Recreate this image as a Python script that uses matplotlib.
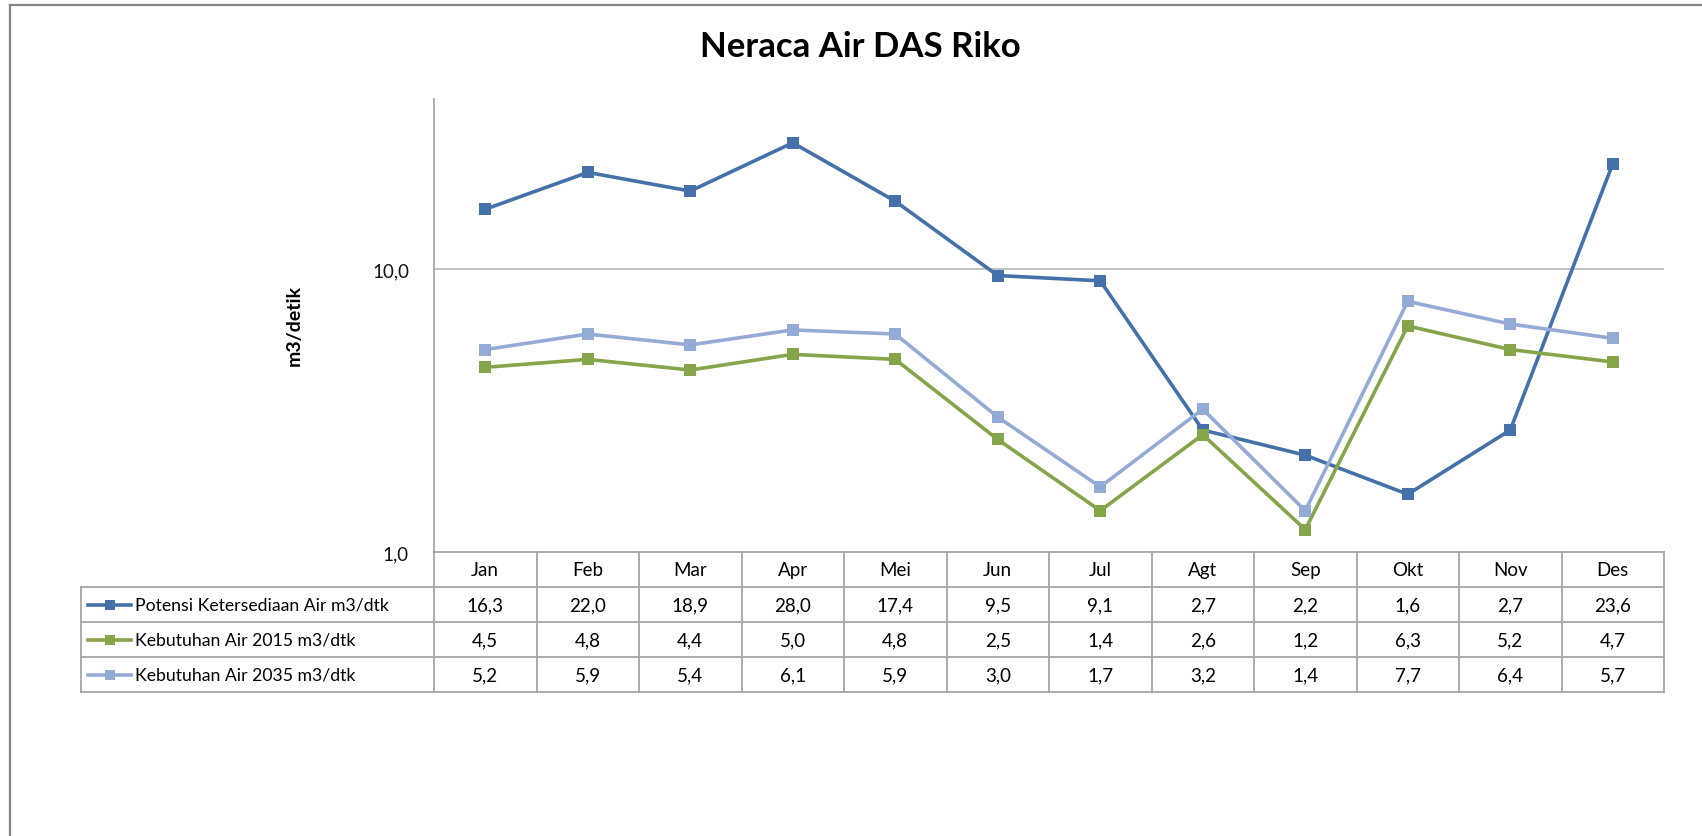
import matplotlib
matplotlib.use("Agg")
import matplotlib.pyplot as plt
from matplotlib.lines import Line2D


# ---------- Data ----------
months = ["Jan", "Feb", "Mar", "Apr", "Mei", "Jun",
          "Jul", "Agt", "Sep", "Okt", "Nov", "Des"]
potensi = [16.3, 22.0, 18.9, 28.0, 17.4, 9.5, 9.1, 2.7, 2.2, 1.6, 2.7, 23.6]
kebutuhan_2015 = [4.5, 4.8, 4.4, 5.0, 4.8, 2.5, 1.4, 2.6, 1.2, 6.3, 5.2, 4.7]
kebutuhan_2035 = [5.2, 5.9, 5.4, 6.1, 5.9, 3.0, 1.7, 3.2, 1.4, 7.7, 6.4, 5.7]

series_names = ["Potensi Ketersediaan Air m3/dtk",
                "Kebutuhan Air 2015 m3/dtk",
                "Kebutuhan Air 2035 m3/dtk"]
series_values = [potensi, kebutuhan_2015, kebutuhan_2035]
series_colors = ["#4471A9", "#85A54A", "#94ABD6"]

title = "Neraca Air DAS Riko"
y_label = "m3/detik"
y_ticks = [1, 10]


def fmt(v):
    return f"{v:.1f}".replace(".", ",")


# ---------- Layout (pixels) ----------
W, H = 1702, 837
plot_left, plot_right = 434, 1664
plot_top, plot_bottom = 100, 553
table_left = 81
row_h = 35
grey_line = "#A6A6A6"
text_size = 13.5
name_size = 12.7

plt.rcParams["font.family"] = ["Lato", "DejaVu Sans"]

fig = plt.figure(figsize=(W / 100, H / 100), dpi=100)


def fx(px):
    return px / W


def fy(py):
    return 1 - py / H


ax = fig.add_axes([fx(plot_left), fy(plot_bottom),
                   fx(plot_right - plot_left), (plot_bottom - plot_top) / H])

# ---------- Lines ----------
x = list(range(len(months)))
for vals, color in zip(series_values, series_colors):
    ax.plot(x, vals, color=color, lw=2.6, marker="s", ms=8.6,
            markeredgewidth=0, zorder=3)

ax.set_yscale("log")
ax.set_ylim(1, 40)
ax.set_xlim(-0.5, len(months) - 0.5)
ax.set_yticks(y_ticks)
ax.set_yticklabels([fmt(t) for t in y_ticks])
ax.minorticks_off()
ax.set_xticks([])
ax.tick_params(axis="y", length=0, pad=18, labelsize=text_size,
               colors="#111111")
for side in ["top", "right", "bottom"]:
    ax.spines[side].set_visible(False)
ax.spines["left"].set_color(grey_line)
ax.spines["left"].set_linewidth(1.3)
ax.axhline(10, color="#BDBDBD", lw=1.3, zorder=1)

fig.text(fx(294), fy(326), y_label, rotation=90, ha="center", va="center",
         fontsize=14, fontweight="bold")
fig.text(fx(860), fy(47), title, ha="center", va="center",
         fontsize=25, fontweight="bold")

# ---------- Data table ----------
rows_y = [plot_bottom + i * row_h for i in range(5)]
col_w = (plot_right - plot_left) / len(months)


def hline(x0, x1, y):
    fig.add_artist(Line2D([fx(x0), fx(x1)], [fy(y), fy(y)],
                          color=grey_line, lw=1.3))


def vline(xp, y0, y1):
    fig.add_artist(Line2D([fx(xp), fx(xp)], [fy(y0), fy(y1)],
                          color=grey_line, lw=1.3))


hline(plot_left, plot_right, rows_y[0])
for y in rows_y[1:]:
    hline(table_left, plot_right, y)
vline(table_left, rows_y[1], rows_y[4])
for i in range(len(months) + 1):
    vline(plot_left + i * col_w, rows_y[0], rows_y[4])

for i, m in enumerate(months):
    fig.text(fx(plot_left + (i + 0.5) * col_w), fy(rows_y[0] + row_h / 2),
             m, ha="center", va="center", fontsize=text_size)

for r, (name, vals, color) in enumerate(zip(series_names, series_values,
                                            series_colors)):
    yc = rows_y[r + 1] + row_h / 2
    fig.add_artist(Line2D([fx(88), fx(131)], [fy(yc), fy(yc)],
                          color=color, lw=2.6))
    fig.add_artist(Line2D([fx(109.5)], [fy(yc)], color=color, marker="s",
                          ms=7, markeredgewidth=0))
    fig.text(fx(135), fy(yc), name, ha="left", va="center", fontsize=name_size)
    for i, v in enumerate(vals):
        fig.text(fx(plot_left + (i + 0.5) * col_w), fy(yc), fmt(v),
                 ha="center", va="center", fontsize=text_size)

# ---------- Chart border ----------
fig.add_artist(Line2D([fx(10), fx(10)], [0, fy(6)], color="#868686", lw=1.6))
fig.add_artist(Line2D([fx(10), 1], [fy(6), fy(6)], color="#868686", lw=1.6))

fig.savefig("out.png", dpi=100, facecolor="white")
